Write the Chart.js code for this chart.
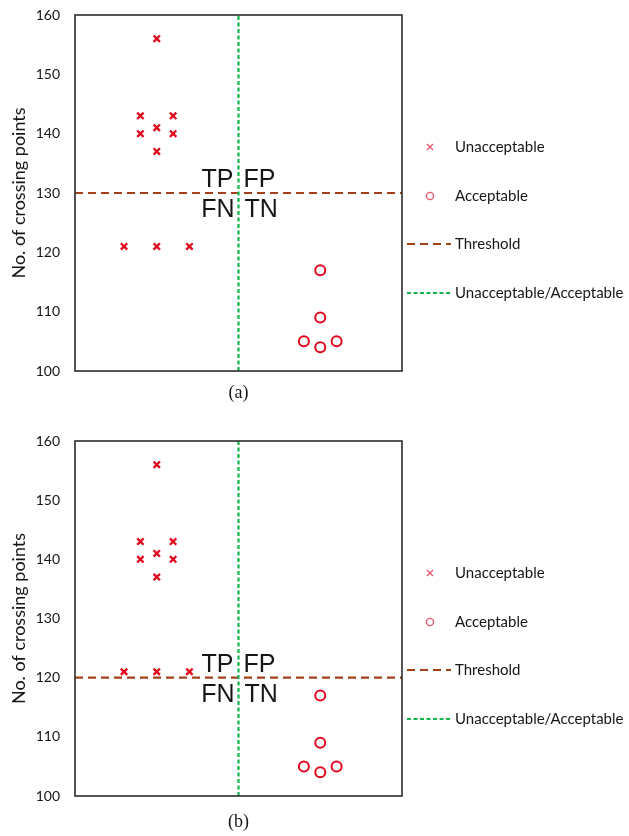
<!DOCTYPE html>
<html>
<head>
<meta charset="utf-8">
<script src="https://cdn.jsdelivr.net/npm/chart.js@4.4.1/dist/chart.umd.min.js"></script>
<style>
  html, body { margin: 0; padding: 0; background: #fff; }
  body { width: 629px; height: 836px; overflow: hidden; }
  .panel { position: relative; width: 629px; }
  #pa { height: 426px; }
  #pb { height: 410px; }
</style>
</head>
<body>
<div class="panel" id="pa"><canvas id="ca"></canvas></div>
<div class="panel" id="pb"><canvas id="cb"></canvas></div>
<script>
// ---- data ----
const unacceptableX = [5, 4, 6, 5, 4, 6, 5, 3, 5, 7];
const unacceptableY = [156, 143, 143, 141, 140, 140, 137, 121, 121, 121];
const acceptableX = [15, 15, 14, 15, 16];
const acceptableY = [117, 109, 105, 104, 105];
const thresholds = [130, 120];
const boundaryX = [10];
const xRange = [0, 20];
const yTicks = [100, 110, 120, 130, 140, 150, 160];
const captions = ['(a)', '(b)'];
const legendLabels = ['Unacceptable', 'Acceptable', 'Threshold', 'Unacceptable/Acceptable'];
const quadrantLabels = ['TP', 'FP', 'FN', 'TN'];
const yTitle = 'No. of crossing points';

// ---- styles ----
const RED = '#e2071b';
const BROWN = '#a3411b';
const GREEN = '#10b54b';
const TEXT = '#161616';

function makePanel(canvasId, threshold, caption, captionGap, padBottom) {
  const canvas = document.getElementById(canvasId);
  const ptsU = unacceptableX.map((x, i) => ({ x: x, y: unacceptableY[i] }));
  const ptsA = acceptableX.map((x, i) => ({ x: x, y: acceptableY[i] }));
  const yMin = yTicks[0], yMax = yTicks[yTicks.length - 1];

  const decor = {
    id: 'decor',
    afterDatasetsDraw(chart) {
      const ctx = chart.ctx;
      const a = chart.chartArea;
      const xs = chart.scales.x, ys = chart.scales.y;
      ctx.save();
      // plot frame
      ctx.strokeStyle = '#2b2b2b';
      ctx.lineWidth = 1.6;
      ctx.strokeRect(a.left, a.top, a.right - a.left, a.bottom - a.top);
      // quadrant labels
      const cx = xs.getPixelForValue(boundaryX[0]);
      const ty = ys.getPixelForValue(threshold);
      ctx.fillStyle = TEXT;
      ctx.font = '25px "Liberation Sans", Arial, sans-serif';
      ctx.textBaseline = 'alphabetic';
      ctx.textAlign = 'right';
      ctx.fillText(quadrantLabels[0], cx - 5, ty - 6);
      ctx.fillText(quadrantLabels[2], cx - 4, ty + 24);
      ctx.textAlign = 'left';
      ctx.fillText(quadrantLabels[1], cx + 5, ty - 6);
      ctx.fillText(quadrantLabels[3], cx + 6, ty + 24);
      // caption
      ctx.font = '18px "Liberation Serif", "Times New Roman", serif';
      ctx.textAlign = 'center';
      ctx.fillText(caption, (a.left + a.right) / 2, a.bottom + captionGap);
      // legend
      const lx = 407, lt = 455;
      const ly = [147, 196, 244, 293];
      ctx.font = '15px Lato, "Open Sans", sans-serif';
      ctx.textAlign = 'left';
      ctx.textBaseline = 'middle';
      legendLabels.forEach((lab, i) => {
        ctx.fillStyle = TEXT;
        ctx.fillText(lab, lt, ly[i]);
      });
      // legend markers
      ctx.strokeStyle = '#e35a6e';
      ctx.lineWidth = 1.4;
      const mx = 430;
      ctx.beginPath();
      ctx.moveTo(mx - 3, ly[0] - 3); ctx.lineTo(mx + 3, ly[0] + 3);
      ctx.moveTo(mx + 3, ly[0] - 3); ctx.lineTo(mx - 3, ly[0] + 3);
      ctx.stroke();
      ctx.beginPath();
      ctx.arc(mx, ly[1], 3.6, 0, Math.PI * 2);
      ctx.stroke();
      ctx.lineWidth = 2;
      ctx.strokeStyle = BROWN;
      ctx.setLineDash([8, 5]);
      ctx.beginPath(); ctx.moveTo(lx, ly[2]); ctx.lineTo(lx + 44, ly[2]); ctx.stroke();
      ctx.strokeStyle = GREEN;
      ctx.setLineDash([4, 2.5]);
      ctx.beginPath(); ctx.moveTo(lx, ly[3]); ctx.lineTo(lx + 44, ly[3]); ctx.stroke();
      ctx.restore();
    }
  };

  return new Chart(canvas, {
    type: 'scatter',
    data: {
      datasets: [
        {
          label: legendLabels[0],
          data: ptsU,
          pointStyle: 'crossRot',
          pointRadius: 4.5,
          pointHoverRadius: 4.5,
          borderWidth: 2.3,
          borderColor: RED,
          backgroundColor: RED,
          order: 1
        },
        {
          label: legendLabels[1],
          data: ptsA,
          pointStyle: 'circle',
          pointRadius: 5,
          pointHoverRadius: 5,
          borderWidth: 2,
          borderColor: RED,
          backgroundColor: 'rgba(0,0,0,0)',
          order: 1
        },
        {
          label: legendLabels[2],
          data: [{ x: xRange[0], y: threshold }, { x: xRange[1], y: threshold }],
          showLine: true,
          pointRadius: 0,
          borderColor: BROWN,
          borderWidth: 2.2,
          borderDash: [8, 5],
          order: 3
        },
        {
          label: legendLabels[3],
          data: [{ x: boundaryX[0], y: yMin }, { x: boundaryX[0], y: yMax }],
          showLine: true,
          pointRadius: 0,
          borderColor: GREEN,
          borderWidth: 2.2,
          borderDash: [4, 2.5],
          order: 2
        }
      ]
    },
    options: {
      responsive: true,
      maintainAspectRatio: false,
      animation: false,
      events: [],
      layout: { padding: { left: 0, right: 227, top: 15, bottom: padBottom } },
      plugins: { legend: { display: false }, tooltip: { enabled: false } },
      scales: {
        x: { type: 'linear', min: xRange[0], max: xRange[1], display: false },
        y: {
          type: 'linear',
          min: yMin,
          max: yMax,
          afterBuildTicks(s) { s.ticks = yTicks.map(v => ({ value: v })); },
          afterFit(s) { s.width = 75; s.paddingTop = 0; s.paddingBottom = 0; },
          grid: { display: false, drawTicks: false },
          border: { display: false },
          ticks: {
            color: TEXT,
            padding: 15,
            font: { family: 'Lato, "Open Sans", sans-serif', size: 14 }
          },
          title: {
            display: true,
            text: yTitle,
            color: TEXT,
            padding: { top: 8, bottom: 0 },
            font: { family: 'Lato, "Open Sans", sans-serif', size: 18 }
          }
        }
      }
    },
    plugins: [decor]
  });
}

const chartA = makePanel('ca', thresholds[0], captions[0], 27, 55);
const chartB = makePanel('cb', thresholds[1], captions[1], 31, 40);
</script>
</body>
</html>
